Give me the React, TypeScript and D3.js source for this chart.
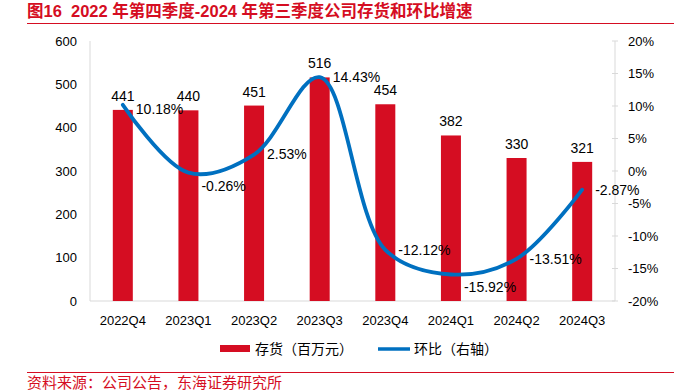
import React, { useEffect, useRef } from 'react';
import * as d3 from 'd3';

// quarters on the x axis
const quarters = ['2022Q4', '2023Q1', '2023Q2', '2023Q3', '2023Q4', '2024Q1', '2024Q2', '2024Q3'];
// inventory, million yuan
const inventory = [441, 440, 451, 516, 454, 382, 330, 321];
// quarter-on-quarter change, %
const qoq = [10.18, -0.26, 2.53, 14.43, -12.12, -15.92, -13.51, -2.87];
const leftTicks = [0, 100, 200, 300, 400, 500, 600];
const rightTicks = [-20, -15, -10, -5, 0, 5, 10, 15, 20];

const RED = '#d50d22';
const BLUE = '#0070c0';
const FONT = 'Arial, "Liberation Sans", "Noto Sans CJK SC", sans-serif';

const App: React.FC = () => {
  const svgRef = useRef<SVGSVGElement>(null);

  useEffect(() => {
    if (!svgRef.current) return;
    const svg = d3.select(svgRef.current);
    svg.selectAll('*').remove();

    const width = 674;
    const height = 390;
    const plot = { left: 90, right: 615, top: 41, bottom: 301 };

    // title and header rule
    svg.append('text')
      .attr('x', 27).attr('y', 17)
      .attr('font-family', FONT)
      .attr('font-size', 16.5).attr('font-weight', 'bold')
      .attr('fill', RED)
      .style('white-space', 'pre')
      .text('图16  2022 年第四季度-2024 年第三季度公司存货和环比增速');
    svg.append('line')
      .attr('x1', 27).attr('x2', width).attr('y1', 23.5).attr('y2', 23.5)
      .attr('stroke', RED).attr('stroke-width', 1.2);

    const x = d3.scaleBand<string>().domain(quarters).range([plot.left, plot.right]);
    const yL = d3.scaleLinear().domain([0, 600]).range([plot.bottom, plot.top]);
    const yR = d3.scaleLinear().domain([-20, 20]).range([plot.bottom, plot.top]);
    const cx = (q: string) => (x(q) as number) + x.bandwidth() / 2;

    // axis lines
    svg.append('line')
      .attr('x1', plot.left).attr('x2', plot.left).attr('y1', plot.top).attr('y2', plot.bottom)
      .attr('stroke', '#d9d9d9');
    svg.append('line')
      .attr('x1', plot.left).attr('x2', plot.right).attr('y1', plot.bottom).attr('y2', plot.bottom)
      .attr('stroke', '#d9d9d9');
    svg.append('line')
      .attr('x1', plot.right).attr('x2', plot.right).attr('y1', plot.top).attr('y2', plot.bottom)
      .attr('stroke', '#d9d9d9');

    // left tick labels
    svg.append('g').selectAll('text').data(leftTicks).enter().append('text')
      .attr('x', 77).attr('y', d => yL(d)).attr('dy', '0.35em')
      .attr('text-anchor', 'end')
      .attr('font-family', FONT).attr('font-size', 13).attr('fill', '#000')
      .text(d => d);

    // right ticks and labels
    svg.append('g').selectAll('line').data(rightTicks).enter().append('line')
      .attr('x1', plot.right - 3).attr('x2', plot.right + 3)
      .attr('y1', d => yR(d)).attr('y2', d => yR(d))
      .attr('stroke', '#d9d9d9');
    svg.append('g').selectAll('text').data(rightTicks).enter().append('text')
      .attr('x', 628).attr('y', d => yR(d)).attr('dy', '0.35em')
      .attr('text-anchor', 'start')
      .attr('font-family', FONT).attr('font-size', 13).attr('fill', '#000')
      .text(d => `${d}%`);

    // x labels
    svg.append('g').selectAll('text').data(quarters).enter().append('text')
      .attr('x', d => cx(d)).attr('y', 325)
      .attr('text-anchor', 'middle')
      .attr('font-family', FONT).attr('font-size', 13).attr('fill', '#000')
      .text(d => d);

    // bars
    const barW = 20;
    svg.append('g').selectAll('rect').data(inventory).enter().append('rect')
      .attr('x', (_, i) => cx(quarters[i]) - barW / 2)
      .attr('width', barW)
      .attr('y', d => yL(d))
      .attr('height', d => yL(0) - yL(d))
      .attr('fill', RED);

    svg.append('g').selectAll('text').data(inventory).enter().append('text')
      .attr('x', (_, i) => cx(quarters[i])).attr('y', d => yL(d) - 9)
      .attr('text-anchor', 'middle')
      .attr('font-family', FONT).attr('font-size', 14).attr('fill', '#000')
      .text(d => d);

    // smoothed line on right axis
    const pts: [number, number][] = qoq.map((v, i) => [cx(quarters[i]), yR(v)]);
    svg.append('path')
      .attr('d', d3.line().curve(d3.curveCatmullRom.alpha(0.5))(pts) as string)
      .attr('fill', 'none').attr('stroke', BLUE).attr('stroke-width', 3.8)
      .attr('stroke-linecap', 'round');

    // percent labels to the right; local minima pushed a bit lower
    svg.append('g').selectAll('text').data(qoq).enter().append('text')
      .attr('x', (_, i) => pts[i][0] + 13)
      .attr('y', (d, i) => {
        const isMin = i > 0 && i < qoq.length - 1 && d < qoq[i - 1] && d < qoq[i + 1];
        return pts[i][1] + (isMin ? 13 : i === 0 ? 4 : 0);
      })
      .attr('dy', '0.35em')
      .attr('font-family', FONT).attr('font-size', 14).attr('fill', '#000')
      .text(d => `${d.toFixed(2)}%`);

    // legend
    const lg = svg.append('g').attr('font-family', FONT).attr('font-size', 14).attr('fill', '#000');
    lg.append('rect').attr('x', 220).attr('y', 345).attr('width', 30).attr('height', 7).attr('fill', RED);
    lg.append('text').attr('x', 255).attr('y', 349).attr('dy', '0.35em').text('存货（百万元）');
    lg.append('line').attr('x1', 378).attr('x2', 410).attr('y1', 349).attr('y2', 349)
      .attr('stroke', BLUE).attr('stroke-width', 3.5);
    lg.append('text').attr('x', 414).attr('y', 349).attr('dy', '0.35em').text('环比（右轴）');

    // footer rule and source
    svg.append('line')
      .attr('x1', 27).attr('x2', width).attr('y1', 372.5).attr('y2', 372.5)
      .attr('stroke', RED).attr('stroke-width', 1.2);
    svg.append('text')
      .attr('x', 27).attr('y', 388)
      .attr('font-family', FONT).attr('font-size', 15).attr('fill', RED)
      .text('资料来源：公司公告，东海证券研究所');

    svg.attr('viewBox', `0 0 ${width} ${height}`);
  }, []);

  return (
    <div style={{ position: 'absolute', left: 0, top: 0 }}>
      <svg ref={svgRef} width={674} height={390} style={{ display: 'block', background: '#fff' }} />
    </div>
  );
};

export default App;
